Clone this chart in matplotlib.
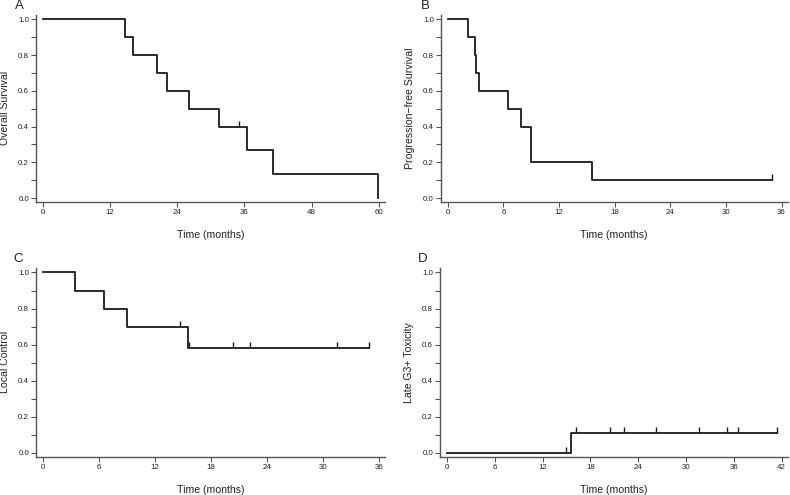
import numpy as np
import matplotlib
matplotlib.use("Agg")
from matplotlib import pyplot as plt
from matplotlib.ticker import MultipleLocator

plt.rcParams['font.family'] = ['Liberation Sans', 'DejaVu Sans']

# A - overall survival
os_times = [0, 14.7, 16.0, 20.3, 22.1, 26.0, 31.4, 36.4, 41.1, 59.8]
os_surv = [1.0, 0.9, 0.8, 0.7, 0.6, 0.5, 0.4, 0.267, 0.133, 0.0]
os_cens = [35.0]

# B - progression-free survival
pfs_times = [0, 2.2, 2.9, 3.05, 3.4, 6.5, 7.9, 9.0, 15.5, 35.0]
pfs_surv = [1.0, 0.9, 0.8, 0.7, 0.6, 0.5, 0.4, 0.2, 0.1, 0.1]
pfs_cens = [35.0]

# C - local control
lc_times = [0, 3.4, 6.5, 9.0, 15.5, 35.0]
lc_surv = [1.0, 0.9, 0.8, 0.7, 0.583, 0.583]
lc_cens = [14.7, 15.6, 20.4, 22.2, 31.5, 35.0]

# D - late G3+ toxicity (cumulative incidence)
tox_times = [0, 15.5, 41.4]
tox_vals = [0.0, 0.111, 0.111]
tox_cens = [14.9, 16.2, 20.4, 22.2, 26.2, 31.6, 35.1, 36.5, 41.4]

panels = [
    ("A", "Overall Survival", os_times, os_surv, os_cens, 60, 12, [0.0456, 0.592, 0.4414, 0.378]),
    ("B", "Progression\u2212free Survival", pfs_times, pfs_surv, pfs_cens, 36, 6, [0.558, 0.592, 0.439, 0.378]),
    ("C", "Local Control", lc_times, lc_surv, lc_cens, 36, 6, [0.0456, 0.0774, 0.4414, 0.3816]),
    ("D", "Late G3+ Toxicity", tox_times, tox_vals, tox_cens, 42, 6, [0.557, 0.0774, 0.440, 0.3816]),
]
letter_pos = {"A": (15, 6), "B": (421, 6), "C": (13, 259), "D": (418, 259)}


def step_value(times, vals, t):
    i = np.searchsorted(times, t, side='right') - 1
    return vals[i]


fig = plt.figure(figsize=(7.9, 4.95), dpi=100)
line_col = '#1a1a1a'
spine_col = '#555555'
W, H = 790.0, 495.0

for letter, ylabel, times, vals, cens, xmax, xstep, rect in panels:
    ax = fig.add_axes(rect)
    ax.step(times, vals, where='post', color=line_col, lw=1.3)
    cy = [step_value(times, vals, t) for t in cens]
    ax.plot(cens, cy, linestyle='none', marker=2, markersize=4, color=line_col, mew=1.0)

    ax.set_xlim(-0.021 * xmax, xmax * 1.018)
    ax.set_ylim(-0.022, 1.026)
    ax.xaxis.set_major_locator(MultipleLocator(xstep))
    ax.yaxis.set_minor_locator(MultipleLocator(0.1))
    ax.set_yticks(np.arange(0, 1.01, 0.2))
    ax.set_yticklabels(["%.1f" % v for v in np.arange(0, 1.01, 0.2)])

    for s in ['top', 'right']:
        ax.spines[s].set_visible(False)
    for s in ['left', 'bottom']:
        ax.spines[s].set_color(spine_col)
        ax.spines[s].set_linewidth(1.0)
    ax.tick_params(which='both', direction='out', length=3.5, width=0.8,
                   color=spine_col, labelsize=5.7, labelcolor='#222222', pad=1.5)

    ax.set_xlabel("Time (months)", fontsize=7.6, color='#222222', labelpad=10)
    ax.set_ylabel(ylabel, fontsize=7.6, color='#222222', labelpad=5.5)
    lx, ly = letter_pos[letter]
    fig.text(lx / W, 1 - ly / H, letter, fontsize=9.5,
             color='#222222', ha='left', va='center')

fig.savefig("out.png", dpi=100)
